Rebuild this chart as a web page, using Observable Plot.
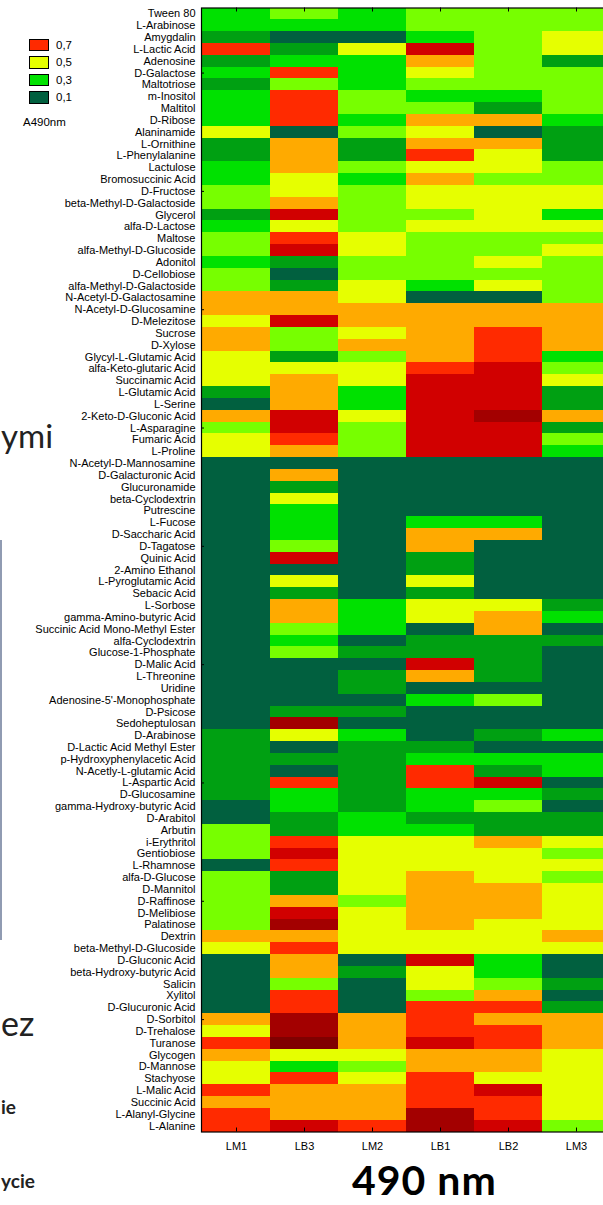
<!DOCTYPE html>
<html>
<head>
<meta charset="utf-8">
<script src="https://cdn.jsdelivr.net/npm/d3@7"></script>
<script src="https://cdn.jsdelivr.net/npm/@observablehq/plot@0.6"></script>
<style>
  html, body { margin: 0; padding: 0; background: #fff; overflow: hidden; }
  #page { position: relative; width: 603px; height: 1205px; overflow: hidden; font-family: "Liberation Sans", Arial, sans-serif; }
  #chart { position: absolute; left: 0; top: 0; }
  #legend { position: absolute; left: 29px; top: 36px; font-size: 11.5px; color: #000; }
  .lg-row { display: flex; align-items: center; height: 17.5px; }
  .lg-box { width: 18px; height: 10.5px; border: 1px solid #000; margin-right: 7px; }
  #unit { position: absolute; left: 23px; top: 116px; font-size: 11.5px; color: #000; }
  #overlay { position: absolute; left: 0; top: 0; pointer-events: none; }
</style>
</head>
<body>
<div id="page">
  <div id="chart"></div>
  <div id="legend"></div>
  <div id="unit">A490nm</div>
  <svg id="overlay" width="603" height="1205">
    <line x1="1" y1="540" x2="1" y2="940" stroke="#6b7a99" stroke-width="1.5"></line>
    <text x="1" y="448" font-family="Lato, 'Open Sans', sans-serif" font-size="33" fill="#222">ymi</text>
    <text x="1" y="1036" font-family="Lato, 'Open Sans', sans-serif" font-size="34" fill="#222">ez</text>
    <text x="1" y="1114" font-family="Lato, 'Open Sans', sans-serif" font-weight="bold" font-size="19" fill="#222">ie</text>
    <text x="1" y="1188" font-family="Lato, 'Open Sans', sans-serif" font-weight="bold" font-size="19" fill="#222">ycie</text>
    <text x="352" y="1195" font-family="Lato, 'Open Sans', sans-serif" font-weight="bold" font-size="41" letter-spacing="1" fill="#000">490 nm</text>
  </svg>
</div>
<script>
// Row (substrate) labels, top to bottom
const substrates = [
  "Tween 80","L-Arabinose","Amygdalin","L-Lactic Acid","Adenosine","D-Galactose","Maltotriose","m-Inositol","Maltitol","D-Ribose",
  "Alaninamide","L-Ornithine","L-Phenylalanine","Lactulose","Bromosuccinic Acid","D-Fructose","beta-Methyl-D-Galactoside","Glycerol","alfa-D-Lactose","Maltose",
  "alfa-Methyl-D-Glucoside","Adonitol","D-Cellobiose","alfa-Methyl-D-Galactoside","N-Acetyl-D-Galactosamine","N-Acetyl-D-Glucosamine","D-Melezitose","Sucrose","D-Xylose","Glycyl-L-Glutamic Acid",
  "alfa-Keto-glutaric Acid","Succinamic Acid","L-Glutamic Acid","L-Serine","2-Keto-D-Gluconic Acid","L-Asparagine","Fumaric Acid","L-Proline","N-Acetyl-D-Mannosamine","D-Galacturonic Acid",
  "Glucuronamide","beta-Cyclodextrin","Putrescine","L-Fucose","D-Saccharic Acid","D-Tagatose","Quinic Acid","2-Amino Ethanol","L-Pyroglutamic Acid","Sebacic Acid",
  "L-Sorbose","gamma-Amino-butyric Acid","Succinic Acid Mono-Methyl Ester","alfa-Cyclodextrin","Glucose-1-Phosphate","D-Malic Acid","L-Threonine","Uridine","Adenosine-5'-Monophosphate","D-Psicose",
  "Sedoheptulosan","D-Arabinose","D-Lactic Acid Methyl Ester","p-Hydroxyphenylacetic Acid","N-Acetly-L-glutamic Acid","L-Aspartic Acid","D-Glucosamine","gamma-Hydroxy-butyric Acid","D-Arabitol","Arbutin",
  "i-Erythritol","Gentiobiose","L-Rhamnose","alfa-D-Glucose","D-Mannitol","D-Raffinose","D-Melibiose","Palatinose","Dextrin","beta-Methyl-D-Glucoside",
  "D-Gluconic Acid","beta-Hydroxy-butyric Acid","Salicin","Xylitol","D-Glucuronic Acid","D-Sorbitol","D-Trehalose","Turanose","Glycogen","D-Mannose",
  "Stachyose","L-Malic Acid","Succinic Acid","L-Alanyl-Glycine","L-Alanine"
];

// Column (sample) labels, left to right
const samples = ["LM1","LB3","LM2","LB1","LB2","LM3"];

// A490nm values per sample (same order as substrates)
const LM1 = [
  .3,.3,.2,.7,.2,.3,.2,.3,.3,.3,
  .5,.2,.2,.3,.3,.4,.4,.2,.3,.4,
  .4,.3,.4,.4,.6,.6,.5,.6,.6,.5,
  .5,.5,.2,.1,.6,.4,.5,.5,.1,.1,
  .1,.1,.1,.1,.1,.1,.1,.1,.1,.1,
  .1,.1,.1,.1,.1,.1,.1,.1,.1,.1,
  .1,.2,.2,.2,.2,.2,.2,.1,.1,.4,
  .4,.4,.1,.4,.4,.4,.4,.4,.6,.5,
  .1,.1,.1,.1,.1,.6,.5,.7,.6,.5,
  .5,.7,.6,.7,.7
];
const LB3 = [
  .4,.3,.1,.2,.3,.7,.4,.7,.7,.7,
  .1,.6,.6,.6,.5,.5,.6,.8,.5,.7,
  .8,.2,.1,.2,.6,.6,.8,.4,.4,.2,
  .5,.6,.6,.6,.8,.8,.7,.6,.1,.6,
  .2,.5,.3,.3,.3,.4,.8,.1,.5,.2,
  .6,.6,.4,.3,.4,.1,.1,.1,.1,.2,
  .9,.5,.1,.2,.1,.7,.3,.3,.2,.2,
  .7,.8,.7,.2,.2,.6,.8,.9,.6,.7,
  .6,.6,.4,.7,.7,.9,.9,1.0,.5,.3,
  .7,.6,.6,.6,.8
];
const LM2 = [
  .3,.3,.1,.5,.3,.3,.3,.4,.4,.3,
  .4,.2,.2,.4,.3,.4,.4,.4,.4,.5,
  .5,.4,.4,.5,.5,.6,.6,.5,.6,.4,
  .5,.5,.3,.3,.5,.4,.4,.4,.1,.1,
  .1,.1,.1,.1,.1,.1,.1,.1,.1,.1,
  .3,.3,.3,.1,.2,.1,.2,.2,.1,.2,
  .1,.3,.2,.2,.2,.2,.2,.2,.3,.3,
  .5,.5,.5,.5,.5,.4,.5,.5,.5,.5,
  .1,.2,.1,.1,.1,.6,.6,.6,.5,.4,
  .5,.6,.6,.6,.7
];
const LB1 = [
  .4,.4,.3,.8,.6,.5,.4,.3,.4,.6,
  .5,.6,.7,.5,.6,.5,.5,.4,.5,.4,
  .4,.4,.4,.3,.1,.6,.6,.6,.6,.6,
  .7,.8,.8,.8,.8,.8,.8,.8,.1,.1,
  .1,.1,.1,.3,.6,.6,.2,.2,.5,.2,
  .5,.5,.1,.2,.2,.8,.6,.1,.3,.1,
  .1,.1,.2,.3,.7,.7,.3,.3,.2,.3,
  .5,.5,.5,.6,.6,.6,.6,.6,.5,.5,
  .8,.5,.5,.4,.7,.7,.7,.8,.6,.6,
  .7,.7,.7,.9,.9
];
const LB2 = [
  .4,.4,.4,.4,.4,.4,.4,.3,.2,.6,
  .1,.6,.5,.5,.4,.5,.5,.5,.5,.4,
  .4,.5,.4,.5,.1,.6,.6,.7,.7,.7,
  .8,.8,.8,.8,.9,.8,.8,.8,.1,.1,
  .1,.1,.1,.3,.6,.1,.1,.1,.1,.1,
  .5,.6,.6,.2,.2,.2,.2,.1,.4,.1,
  .1,.2,.1,.3,.2,.8,.3,.4,.2,.2,
  .6,.5,.5,.5,.6,.6,.6,.5,.5,.5,
  .3,.3,.4,.6,.7,.6,.7,.7,.6,.6,
  .5,.8,.7,.7,.8
];
const LM3 = [
  .4,.4,.5,.5,.2,.4,.4,.4,.4,.3,
  .2,.2,.2,.4,.4,.5,.5,.3,.5,.4,
  .5,.4,.4,.4,.4,.6,.6,.6,.6,.3,
  .4,.5,.2,.2,.6,.2,.4,.3,.1,.1,
  .1,.1,.1,.1,.1,.1,.1,.1,.1,.1,
  .2,.3,.1,.2,.1,.1,.1,.1,.1,.1,
  .1,.3,.1,.3,.3,.1,.2,.1,.2,.2,
  .5,.4,.5,.4,.5,.5,.5,.5,.6,.5,
  .1,.1,.2,.1,.2,.6,.6,.6,.5,.5,
  .5,.5,.5,.5,.4
];

// Colour classes (A490nm levels 0.1 ... 1.0)
const levelBreaks = [0.15, 0.25, 0.35, 0.45, 0.55, 0.65, 0.75, 0.85, 0.95];
const levelColors = ["#01603f","#00a012","#00e100","#77ff00","#e6ff00","#ffaa00","#ff2a00","#d10000","#a30000","#800000"];

// Legend entries
const legendValues = [0.7, 0.5, 0.3, 0.1];
const legendLabels = ["0,7", "0,5", "0,3", "0,1"];

const series = {LM1, LB3, LM2, LB1, LB2, LM3};
const cells = substrates.flatMap((s, i) => samples.map(c => ({substrate: s, sample: c, value: series[c][i]})));
const tickedRows = substrates.filter((d, i) => i % 10 === 5);

const W = 603, H = 1170;
const mTop = 7.5, mBottom = H - 1131.5, mLeft = 201, mRight = -8;
const frameH = H - mTop - mBottom, frameW = W - mLeft - mRight;

const chart = Plot.plot({
  width: W,
  height: H,
  marginTop: mTop,
  marginBottom: mBottom,
  marginLeft: mLeft,
  marginRight: mRight,
  style: {fontFamily: "'Liberation Sans', Arial, sans-serif", fontSize: "11px", background: "transparent", color: "#000"},
  x: {domain: samples, padding: 0, label: null},
  y: {domain: substrates, padding: 0, label: null},
  color: {type: "threshold", domain: levelBreaks, range: levelColors},
  marks: [
    Plot.cell(cells, {x: "sample", y: "substrate", fill: "value", inset: 0, shapeRendering: "crispEdges"}),
    Plot.axisY({tickSize: 0, tickPadding: 6, fontSize: 11, label: null}),
    Plot.axisX({anchor: "bottom", tickSize: 0, tickPadding: 10, fontSize: 11, label: null}),
    Plot.ruleX(samples, {x: d => d, insetBottom: frameH - 4, stroke: "#000"}),
    Plot.ruleX(samples, {x: d => d, insetTop: frameH - 4, stroke: "#000"}),
    Plot.ruleY(tickedRows, {y: d => d, insetRight: frameW - 3, stroke: "#000"}),
    Plot.frame({stroke: "#000", strokeWidth: 1.2})
  ]
});
document.getElementById("chart").appendChild(chart);

const colorScale = chart.scale("color");
const legend = d3.select("#legend");
legendValues.forEach((v, i) => {
  const row = legend.append("div").attr("class", "lg-row");
  row.append("div").attr("class", "lg-box").style("background", colorScale.apply(v));
  row.append("span").text(legendLabels[i]);
});
</script>
</body>
</html>
